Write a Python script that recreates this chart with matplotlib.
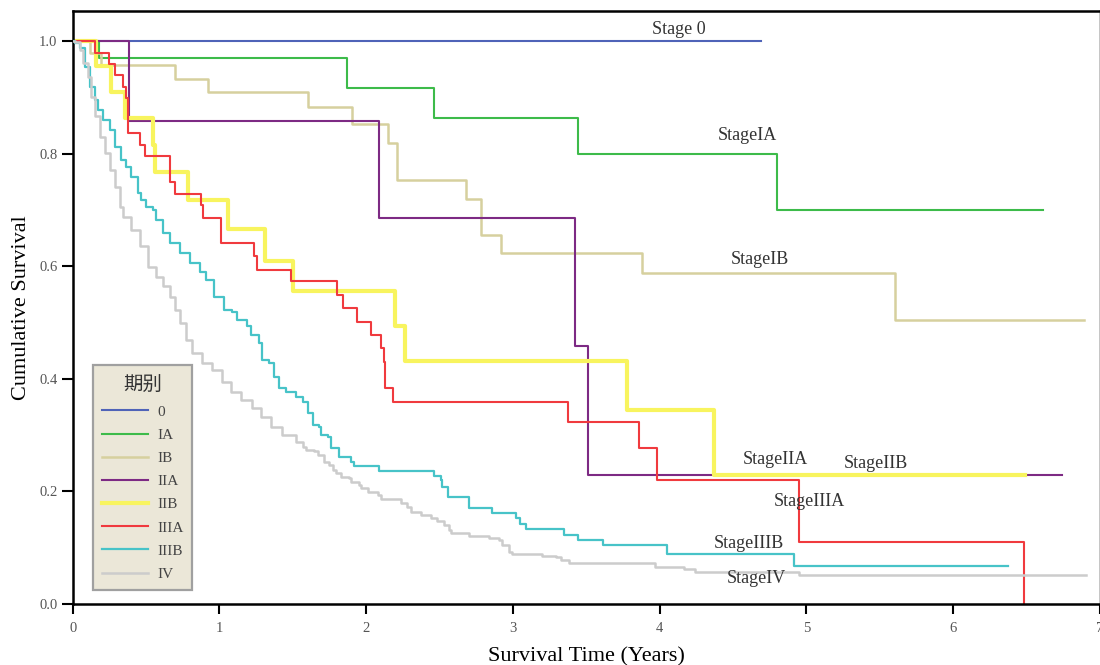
import matplotlib
matplotlib.use('Agg')
import matplotlib.pyplot as plt
import numpy as np

plt.rcParams['font.family'] = ['Liberation Serif', 'Noto Sans CJK SC', 'DejaVu Serif']

# ============================================================
# Kaplan-Meier step data (time in years, survival after the step)
# ============================================================
t_0 = [0, 4.69]
s_0 = [1.0, 1.0]

t_IA = [0, 0.18, 1.87, 2.46, 3.44, 4.80, 6.61]
s_IA = [1.0, 0.969, 0.916, 0.863, 0.799, 0.700, 0.700]

t_IB = [0, 0.116, 0.195, 0.70, 0.925, 1.60, 1.90, 2.15, 2.21, 2.68, 2.78, 2.92, 3.88, 5.60, 6.89]
s_IB = [1.0, 0.979, 0.957, 0.932, 0.909, 0.882, 0.853, 0.819, 0.753, 0.720, 0.655, 0.623, 0.588, 0.504, 0.504]

t_IIA = [0, 0.383, 2.09, 3.42, 3.51, 6.74]
s_IIA = [1.0, 0.858, 0.686, 0.458, 0.229, 0.229]

t_IIB = [0, 0.162, 0.262, 0.354, 0.546, 0.558, 0.784, 1.057, 1.313, 1.50, 2.197, 2.265, 3.78, 4.37, 6.49]
s_IIB = [1.0, 0.955, 0.910, 0.863, 0.815, 0.768, 0.717, 0.666, 0.610, 0.556, 0.494, 0.432, 0.345, 0.230, 0.230]

t_IIIA = [0, 0.15, 0.25, 0.286, 0.34, 0.365, 0.376, 0.456, 0.49, 0.66, 0.694, 0.875, 0.891,
          1.01, 1.238, 1.254, 1.487, 1.80, 1.84, 1.94, 2.03, 2.10, 2.12, 2.13, 2.18,
          3.377, 3.857, 3.98, 4.95, 6.48, 6.48]
s_IIIA = [1.0, 0.978, 0.960, 0.940, 0.919, 0.898, 0.836, 0.815, 0.795, 0.750, 0.729, 0.709, 0.685,
          0.641, 0.618, 0.594, 0.573, 0.549, 0.526, 0.501, 0.478, 0.454, 0.430, 0.383, 0.359,
          0.324, 0.277, 0.221, 0.111, 0.0, 0.0]

t_IIIB = [0, 0.014, 0.048, 0.082, 0.116, 0.150, 0.172, 0.204, 0.252, 0.286, 0.331, 0.365, 0.399,
          0.444, 0.467, 0.501, 0.544, 0.569, 0.612, 0.660, 0.728, 0.796, 0.864, 0.910, 0.966,
          1.034, 1.088, 1.122, 1.190, 1.216, 1.272, 1.293, 1.340, 1.374, 1.408, 1.454, 1.522,
          1.567, 1.601, 1.635, 1.680, 1.692, 1.737, 1.760, 1.816, 1.896, 1.918, 2.084, 2.463,
          2.508, 2.519, 2.558, 2.701, 2.859, 3.018, 3.046, 3.091, 3.347, 3.444, 3.614, 4.050,
          4.918, 6.374]
s_IIIB = [1.0, 0.996, 0.988, 0.954, 0.919, 0.895, 0.877, 0.860, 0.842, 0.812, 0.788, 0.777, 0.759,
          0.730, 0.718, 0.706, 0.700, 0.682, 0.659, 0.641, 0.623, 0.606, 0.590, 0.576, 0.546,
          0.522, 0.519, 0.504, 0.493, 0.478, 0.464, 0.433, 0.428, 0.404, 0.384, 0.377, 0.368,
          0.359, 0.339, 0.318, 0.315, 0.300, 0.297, 0.277, 0.262, 0.253, 0.246, 0.237, 0.227,
          0.220, 0.208, 0.190, 0.170, 0.161, 0.152, 0.142, 0.133, 0.123, 0.114, 0.104, 0.089,
          0.067, 0.067]

t_IV = [0, 0.014, 0.048, 0.068, 0.102, 0.127, 0.150, 0.184, 0.218, 0.252, 0.286, 0.320, 0.340,
        0.399, 0.456, 0.510, 0.569, 0.612, 0.660, 0.694, 0.728, 0.773, 0.816, 0.884, 0.952,
        1.020, 1.080, 1.148, 1.224, 1.284, 1.352, 1.429, 1.522, 1.567, 1.590, 1.646, 1.669,
        1.714, 1.748, 1.771, 1.794, 1.828, 1.884, 1.896, 1.952, 1.964, 2.009, 2.077, 2.100,
        2.236, 2.281, 2.304, 2.372, 2.440, 2.485, 2.531, 2.565, 2.576, 2.701, 2.837, 2.905,
        2.927, 2.973, 2.995, 3.199, 3.290, 3.324, 3.381, 3.971, 4.163, 4.243, 4.946, 6.907]
s_IV = [1.0, 0.999, 0.984, 0.961, 0.936, 0.901, 0.866, 0.830, 0.801, 0.771, 0.741, 0.706, 0.688,
        0.664, 0.635, 0.599, 0.581, 0.564, 0.546, 0.522, 0.499, 0.469, 0.446, 0.428, 0.416,
        0.395, 0.377, 0.362, 0.348, 0.333, 0.315, 0.300, 0.288, 0.279, 0.274, 0.271, 0.265,
        0.253, 0.247, 0.238, 0.232, 0.226, 0.223, 0.217, 0.211, 0.206, 0.199, 0.194, 0.186,
        0.179, 0.173, 0.164, 0.158, 0.152, 0.148, 0.140, 0.131, 0.127, 0.121, 0.117, 0.114,
        0.105, 0.093, 0.089, 0.086, 0.083, 0.078, 0.073, 0.066, 0.062, 0.057, 0.052, 0.052]

stages = ['0', 'IA', 'IB', 'IIA', 'IIB', 'IIIA', 'IIIB', 'IV']
curves = [(t_0, s_0), (t_IA, s_IA), (t_IB, s_IB), (t_IIA, s_IIA), (t_IIB, s_IIB),
          (t_IIIA, s_IIIA), (t_IIIB, s_IIIB), (t_IV, s_IV)]
colors = ['#4f63b8', '#3dbb4a', '#d6d09e', '#7d2a84', '#f8f45e', '#f03a3e', '#47c3c8', '#cccccc']
widths = [1.5, 1.5, 1.8, 1.5, 3.0, 1.5, 1.6, 1.8]

# label text, (t, s) placement
labels = ['Stage 0', 'StageIA', 'StageIB', 'StageIIA', 'StageIIB', 'StageIIIA', 'StageIIIB', 'StageIV']
label_pos = [(4.13, 1.021), (4.60, 0.832), (4.68, 0.612), (4.79, 0.257),
             (5.475, 0.250), (5.02, 0.182), (4.61, 0.107), (4.66, 0.045)]

# ============================================================
# 그리기
# ============================================================
fig = plt.figure(figsize=(11, 6.65), dpi=100)
ax = fig.add_axes([0.0661, 0.0917, 0.9339, 0.8918])

draw_order = [7, 6, 2, 1, 0, 4, 3, 5]
handles = {}
for i in draw_order:
    t, s = curves[i]
    ln, = ax.plot(t, s, drawstyle='steps-post', color=colors[i], lw=widths[i],
                  label=stages[i], zorder=2 + i * 0.1)
    handles[i] = ln

for txt, (x, y) in zip(labels, label_pos):
    ax.text(x, y, txt, ha='center', va='center', fontsize=13, color='#333333', zorder=5)

ax.set_xlim(0, 7)
ax.set_ylim(0, 1.0533)
ax.set_xticks(range(8))
ax.set_yticks(np.arange(0, 1.01, 0.2))
ax.set_yticklabels([f'{v:.1f}' for v in np.arange(0, 1.01, 0.2)])
ax.tick_params(axis='y', direction='out', length=8, width=1.5, pad=3, labelsize=10.5, labelcolor='#555555')
ax.tick_params(axis='x', direction='out', length=7, width=1.5, pad=6, labelsize=10.5, labelcolor='#555555')

for side in ['left', 'bottom', 'top']:
    ax.spines[side].set_linewidth(1.8)
    ax.spines[side].set_color('black')
ax.spines['right'].set_color('#bbbbbb')
ax.spines['right'].set_linewidth(1.2)

ax.set_xlabel('Survival Time (Years)', fontsize=16, labelpad=9)
ax.set_ylabel('Cumulative Survival', fontsize=16, labelpad=6)

leg = ax.legend([handles[i] for i in range(8)], stages, title='期别',
                loc='lower left', bbox_to_anchor=(0.0195, 0.0236), borderaxespad=0,
                fancybox=False, framealpha=1, facecolor='#ebe7d8', edgecolor='#a0a0a0',
                fontsize=11, title_fontsize=14, handlelength=3.0, labelspacing=0.62,
                handletextpad=0.6, borderpad=0.6)
leg.get_frame().set_linewidth(1.6)
for tx in leg.get_texts():
    tx.set_color('#444444')
leg.get_title().set_family(['Noto Sans CJK SC'])
leg.get_title().set_color('#333333')

plt.savefig('out.png', dpi=100)
